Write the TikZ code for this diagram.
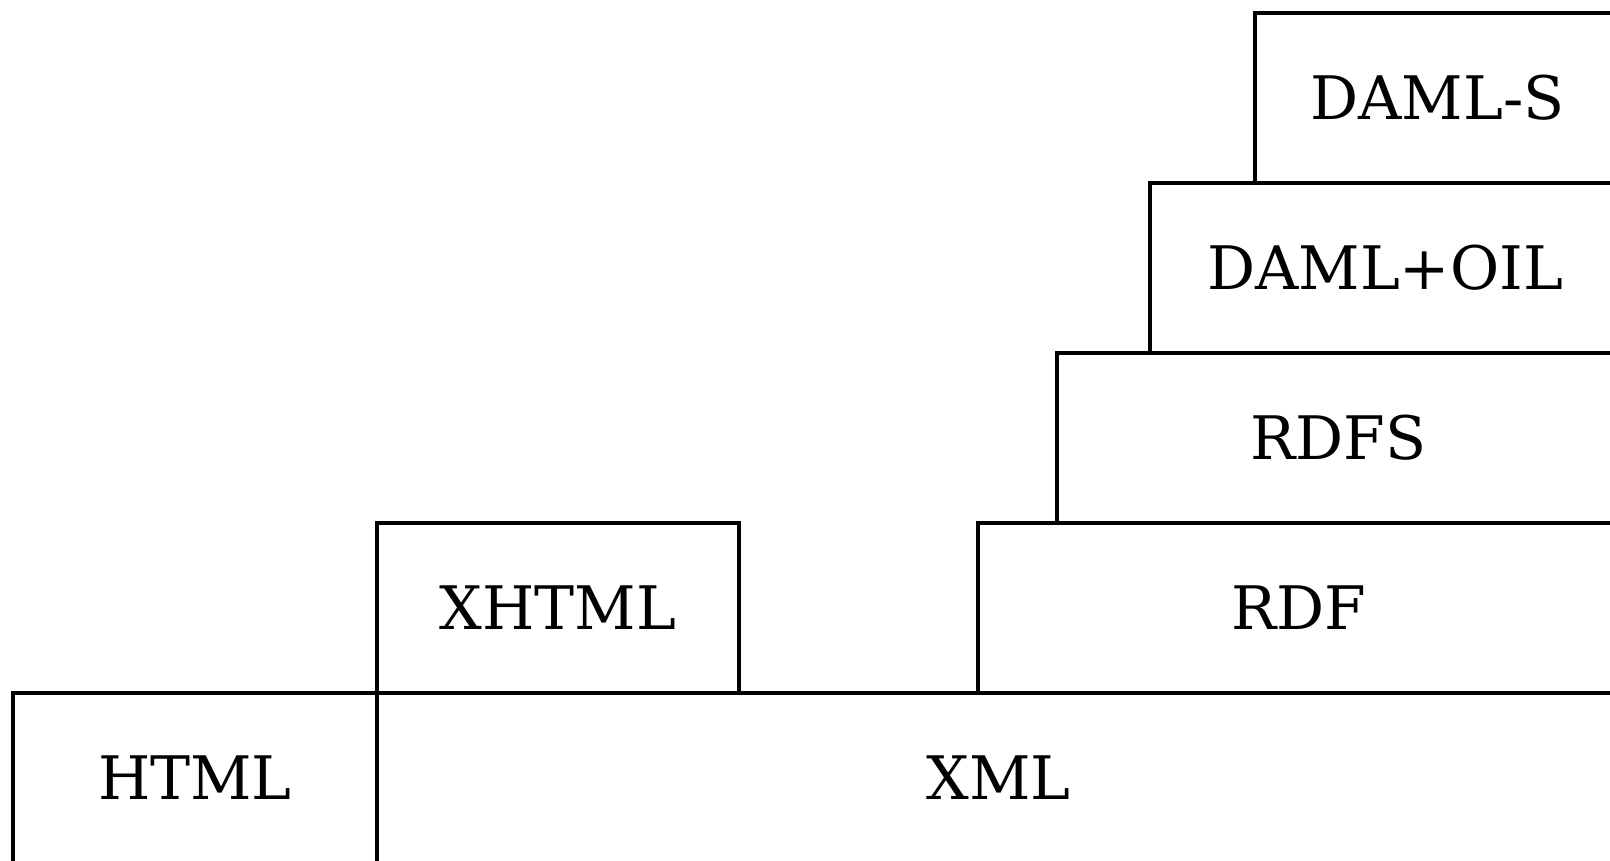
\documentclass[tikz,border=0pt]{standalone}
\usepackage{fontspec}
\setmainfont{DejaVu Serif}
\usetikzlibrary{fit}
\begin{document}
\begin{tikzpicture}[x=0.5pt,y=-0.5pt,
  layer/.style={draw=black, line width=2.4pt, inner sep=0pt, rectangle},
  lbl/.style={inner sep=0pt, anchor=center, text height=21.5pt, text depth=0pt,
    font=\fontsize{30}{36}\selectfont, text=black}]
\useasboundingbox (0,0) rectangle (1610,861);
\clip (0,0) rectangle (1610,861);
\node[layer, fit={(13,693) (377,863)}] (html) {};
\node[layer, fit={(377,693) (1620,863)}] (xml) {};
\node[layer, fit={(377,523) (739,693)}] (xhtml) {};
\node[layer, fit={(978,523) (1620,693)}] (rdf) {};
\node[layer, fit={(1057,353) (1620,523)}] (rdfs) {};
\node[layer, fit={(1150,183) (1620,353)}] (damloil) {};
\node[layer, fit={(1255,13) (1620,183)}] (damls) {};
\node[lbl] (htmlt) at (html.center) {HTML};
\node[lbl] (xmlt) at (xml.center) {XML};
\node[lbl] (xhtmlt) at (xhtml.center) {XHTML};
\node[lbl] (rdft) at (rdf.center) {RDF};
\node[lbl] (rdfst) at (rdfs.center) {RDFS};
\node[lbl] (damloilt) at (damloil.center) {DAML+OIL};
\node[lbl] (damlst) at (damls.center) {DAML-S};
\end{tikzpicture}
\end{document}
